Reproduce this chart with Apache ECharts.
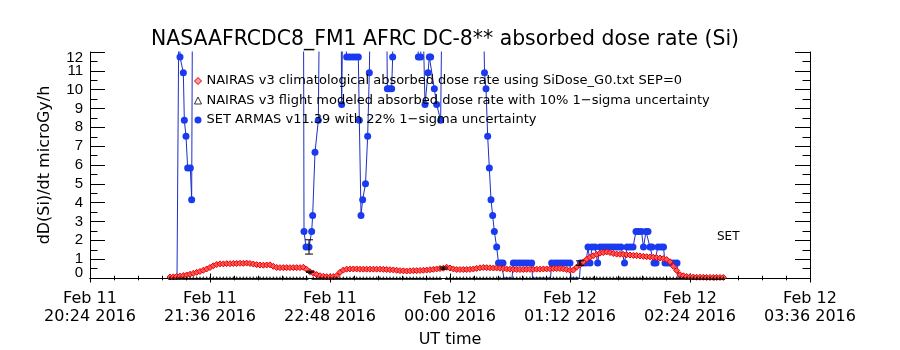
<!DOCTYPE html>
<html><head><meta charset="utf-8">
<script src="https://cdn.jsdelivr.net/npm/echarts@6/dist/echarts.min.js"></script>
<style>html,body{margin:0;padding:0;background:#fff}#c{width:900px;height:350px}</style>
</head><body><div id="c"></div>
<script>
// ---------- text ----------
const titleText = 'NASAAFRCDC8_FM1 AFRC DC-8** absorbed dose rate (Si)';
const yAxisTitle = 'dD(Si)/dt microGy/h';
const xAxisTitle = 'UT time';
const seriesNames = [
  'NAIRAS v3 climatological absorbed dose rate using SiDose_G0.txt SEP=0',
  'NAIRAS v3 flight modeled absorbed dose rate with 10% 1\u2212sigma uncertainty',
  'SET ARMAS v11.39 with 22% 1\u2212sigma uncertainty'
];
const cornerNote = 'SET';
// x axis: minutes since Feb 11 2016 00:00 UT
const xMin = 1224, xMax = 1656, xStep = 72;
const xTickLabels = ['Feb 11\n20:24 2016','Feb 11\n21:36 2016','Feb 11\n22:48 2016','Feb 12\n00:00 2016','Feb 12\n01:12 2016','Feb 12\n02:24 2016','Feb 12\n03:36 2016'];
const yMin = 0, yMax = 12, yStep = 1;

// ---------- NAIRAS climatological (red diamonds) ----------
const redT = [1272,1274,1276,1278,1280,1282,1284,1286,1288,1290,1292,1294,1296,1298,1300,1302,1304,1306,1308,1310,
1312,1314,1316,1318,1320,1322,1324,1326,1328,1330,1332,1334,1336,1338,1340,1342,1344,1346,1348,1350,
1352,1354,1356,1358,1360,1362,1364,1366,1368,1370,1372,1374,1376,1378,1380,1382,1384,1386,1388,1390,
1392,1394,1396,1398,1400,1402,1404,1406,1408,1410,1412,1414,1416,1418,1420,1422,1424,1426,1428,1430,
1432,1434,1436,1438,1440,1442,1444,1446,1448,1450,1452,1454,1456,1458,1460,1462,1464,1466,1468,1470,
1472,1474,1476,1478,1480,1482,1484,1486,1488,1490,1492,1494,1496,1498,1500,1502,1504,1506,1508,1510,
1512,1514,1516,1518,1520,1522,1524,1526,1528,1530,1532,1534,1536,1538,1540,1542,1544,1546,1548,1550,
1552,1554,1556,1558,1560,1562,1564,1566,1568,1570,1572,1574,1576,1578,1580,1582,1584,1586,1588,1590,
1592,1594,1596,1598,1600,1602,1604];
const redV = [0.05,0.06,0.08,0.10,0.13,0.16,0.20,0.25,0.30,0.35,0.41,0.48,0.56,0.65,0.72,0.75,0.75,0.76,0.76,0.77,
0.77,0.78,0.78,0.79,0.77,0.74,0.71,0.69,0.68,0.69,0.70,0.62,0.56,0.55,0.55,0.55,0.55,0.55,0.55,0.55,
0.57,0.46,0.33,0.26,0.18,0.12,0.09,0.07,0.06,0.08,0.12,0.30,0.42,0.47,0.48,0.48,0.48,0.47,0.47,0.47,
0.47,0.47,0.47,0.47,0.46,0.45,0.44,0.43,0.41,0.39,0.38,0.37,0.38,0.39,0.39,0.40,0.41,0.42,0.44,0.46,
0.48,0.50,0.52,0.57,0.53,0.48,0.45,0.45,0.45,0.45,0.46,0.48,0.51,0.54,0.56,0.55,0.54,0.53,0.53,0.52,
0.50,0.48,0.47,0.46,0.45,0.45,0.45,0.46,0.46,0.46,0.47,0.47,0.48,0.48,0.49,0.50,0.50,0.50,0.48,0.45,
0.41,0.42,0.58,0.70,0.85,1.00,1.10,1.18,1.25,1.32,1.35,1.38,1.35,1.30,1.27,1.26,1.25,1.23,1.22,1.20,
1.19,1.17,1.15,1.13,1.12,1.10,1.08,1.06,1.03,0.98,0.86,0.62,0.40,0.17,0.12,0.08,0.06,0.05,0.04,0.04,
0.04,0.03,0.03,0.03,0.03,0.03,0.03];

// ---------- NAIRAS flight modeled (black triangles), same times as redT ----------
const flightV = [0,0,0,0,0,0,0,0,0,0,0,0,0,0,0,0,0,0,0,0,
0,0,0,0,0,0,0,0,0,0,0,0,0,0,0,0,0,0,0,0,
0,0,0.33,0,0,0,0,0,0,0,0,0,0,0,0,0,0,0,0,0,
0,0,0,0,0,0,0,0,0,0,0,0,0,0,0,0,0,0,0,0,
0,0,0.53,0,0,0,0,0,0,0,0,0,0,0,0,0,0,0,0,0,
0,0,0,0,0,0,0,0,0,0,0,0,0,0,0,0,0,0,0,0,
0,0,0,0.79,0,0,0,0,0,0,0,0,0,0,0,0,0,0,0,0,
0,0,0,0,0,0,0,0,0,0,0,0,0,0,0,0,0,0,0,0,
0,0,0,0,0,0,0];

// ---------- SET ARMAS (blue dots); 15 = above plotted range ----------
const setT = [1276.2,1277.4,1278.0,1280.0,1280.6,1281.6,1282.6,1284.2,1285.0,1285.5,
1352.1,1352.4,1353.6,1355.4,1357.0,1357.6,1359.0,1361.0,1361.7,
1374.6,1375.0,1375.8,1378.0,1379.7,1381.5,1383.3,1385.0,1385.6,1386.6,1387.6,1389.3,1390.6,1391.6,1392.3,
1401.9,1402.4,1403.7,1405.0,1405.6,1406.1,
1419.9,1421.0,1422.4,1423.5,1425.0,1426.8,1427.6,1428.4,1430.6,1432.0,1434.4,1435.2,
1460.0,1460.7,1461.6,1462.6,1463.6,1464.6,1465.6,1466.6,1468.0,1469.1,1470.6,1471.8,1472.4,
1477.2,1478.0,1479.6,1481.4,1483.2,1485.0,1486.8,1489.0,1489.5,
1500.3,1501.0,1503.0,1504.8,1506.6,1508.4,1510.2,1512.0,1512.6,
1517.7,1518.3,1519.8,1521.6,1522.8,1524.0,1525.2,1527.0,1528.6,1530.0,1531.8,1533.6,1535.4,1537.2,1539.0,1540.8,1542.6,
1544.7,1546.2,1548.0,1549.8,1551.6,1553.1,1554.9,1556.1,1557.6,1558.8,1560.0,1561.2,1562.4,1563.6,1564.8,1566.6,1568.1,
1569.0,1570.8,1572.6,1574.4,1576.2,1576.8,1596.0];
const setV = [0,15,11.74,10.9,8.37,7.53,5.84,5.84,4.16,15,
15,2.47,1.64,1.64,2.47,3.32,6.68,8.37,15,
15,9.21,15,11.74,11.74,11.74,11.74,11.74,8.37,3.32,4.16,5.0,7.53,10.9,15,
15,10.05,10.05,10.05,11.74,15,
15,11.74,11.74,15,9.21,10.9,11.74,11.74,10.05,9.21,8.37,15,
15,10.9,10.05,7.53,5.84,4.16,3.32,2.47,1.64,0.8,0.8,0.8,0,
0,0.8,0.8,0.8,0.8,0.8,0.8,0.8,0,
0,0.8,0.8,0.8,0.8,0.8,0.8,0.8,0,
0,0.8,0.8,0.8,1.64,0.8,1.64,1.64,0.8,1.64,1.64,1.64,1.64,1.64,1.64,1.64,1.64,
0.8,1.64,1.64,1.64,2.47,2.47,2.47,1.64,2.47,2.47,1.64,1.64,0.8,0.8,1.64,1.64,1.64,
0.8,0.8,0.8,0.8,0.8,0,0];

// ---------- error bars (time, low, high) ----------
const errT  = [1355.4, 1356, 1436, 1518];
const errLo = [1.27, 0.30, 0.48, 0.67];
const errHi = [2.03, 0.36, 0.58, 0.91];

// ---------- chart ----------
const FONT = 'DejaVu Sans';
const chart = echarts.init(document.getElementById('c'), null, {renderer: 'canvas'});
const axisLineStyle = {color: '#000', width: 1};
const yLabelFont = {fontFamily: 'Liberation Sans', fontSize: 15, lineHeight: 11, color: '#000', margin: 7};

const redData = redT.map((t, i) => [t, redV[i]]);
const flightData = redT.map((t, i) => [t, flightV[i]]);
const setData = setT.map((t, i) => ({
  value: [t, setV[i]],
  symbol: (setV[i] > 0 && setV[i] <= yMax) ? 'circle' : 'none'
}));
const errData = errT.map((t, i) => [t, errLo[i], errHi[i]]);

chart.setOption({
  animation: false,
  backgroundColor: '#fff',
  title: {
    text: titleText, left: 146, top: 25,
    textStyle: {fontFamily: FONT, fontSize: 20.4, fontWeight: 'normal', color: '#000'}
  },
  legend: {
    orient: 'vertical', left: 189, top: 69.5,
    itemWidth: 7, itemHeight: 7, itemGap: 6.5, selectedMode: false,
    textStyle: {fontFamily: FONT, fontSize: 13, color: '#000'},
    data: [
      {name: seriesNames[0], icon: 'diamond', itemStyle: {color: '#ff9a9a', borderColor: '#e00000', borderWidth: 1}},
      {name: seriesNames[1], icon: 'triangle', itemStyle: {color: '#fff', borderColor: '#000', borderWidth: 1}},
      {name: seriesNames[2], icon: 'circle', itemStyle: {color: '#1a3af0'}}
    ]
  },
  grid: {left: 90, right: 90, top: 52, bottom: 72, containLabel: false, outerBoundsMode: 'none'},
  xAxis: [{
    type: 'value', min: xMin, max: xMax, interval: xStep, position: 'bottom',
    axisLine: {show: true, lineStyle: axisLineStyle},
    axisTick: {show: true, inside: true, length: 4.5, lineStyle: axisLineStyle},
    minorTick: {show: true, splitNumber: 5, length: 2.3, lineStyle: axisLineStyle},
    splitLine: {show: false},
    axisLabel: {
      formatter: v => xTickLabels[Math.round((v - xMin) / xStep)],
      fontFamily: FONT, fontSize: 16, lineHeight: 18, color: '#000', margin: 12,
      showMinLabel: true, showMaxLabel: true, hideOverlap: false
    },
    name: xAxisTitle, nameLocation: 'middle', nameGap: 54,
    nameTextStyle: {fontFamily: FONT, fontSize: 16, color: '#000'}
  }, {
    type: 'value', min: xMin, max: xMax, interval: xStep, position: 'top',
    axisLine: {show: true, lineStyle: axisLineStyle},
    axisTick: {show: true, inside: true, length: 4.5, lineStyle: axisLineStyle},
    minorTick: {show: true, splitNumber: 5, length: 2.3, lineStyle: axisLineStyle},
    splitLine: {show: false}, axisLabel: {show: false}
  }],
  yAxis: [{
    // main left axis: ticks and inner labels 1..11
    type: 'value', min: yMin, max: yMax, interval: yStep, position: 'left', offset: 0,
    axisLine: {show: true, lineStyle: axisLineStyle},
    axisTick: {show: true, inside: true, length: 15, lineStyle: axisLineStyle},
    minorTick: {show: true, splitNumber: 2, length: 7.5, lineStyle: axisLineStyle},
    splitLine: {show: false},
    axisLabel: Object.assign({showMinLabel: false, showMaxLabel: false, hideOverlap: false}, yLabelFont),
    name: yAxisTitle, nameLocation: 'middle', nameGap: 37, nameRotate: 90,
    nameTextStyle: {fontFamily: FONT, fontSize: 16, color: '#000'}
  }, {
    type: 'value', min: yMin, max: yMax, interval: yStep, position: 'right',
    axisLine: {show: true, lineStyle: axisLineStyle},
    axisTick: {show: true, inside: true, length: 15, lineStyle: axisLineStyle},
    minorTick: {show: true, splitNumber: 2, length: 7.5, lineStyle: axisLineStyle},
    splitLine: {show: false}, axisLabel: {show: false}
  }, {
    // end labels 0 and 12, kept inside the axis span
    type: 'value', min: yMin, max: yMax, interval: yMax - yMin, position: 'left', offset: 0,
    axisLine: {show: false}, axisTick: {show: false}, splitLine: {show: false},
    axisLabel: Object.assign({showMinLabel: true, showMaxLabel: true, hideOverlap: false,
      verticalAlignMinLabel: 'bottom', verticalAlignMaxLabel: 'top'}, yLabelFont)
  }],
  graphic: [{
    type: 'text', left: 717, top: 231,
    style: {text: cornerNote, font: '12px "DejaVu Sans"', fill: '#000'}
  }],
  series: [{
    name: seriesNames[2], type: 'line', data: setData, z: 3,
    symbol: 'circle', symbolSize: 7, showAllSymbol: true, clip: true,
    itemStyle: {color: '#1a3af0'},
    lineStyle: {color: '#1c2fc4', width: 1}
  }, {
    name: seriesNames[0], type: 'line', data: redData, z: 4,
    symbol: 'diamond', symbolSize: 6, showAllSymbol: true, clip: true,
    itemStyle: {color: '#ff5a5a', borderColor: '#e80000', borderWidth: 1},
    lineStyle: {color: '#e00000', width: 1}
  }, {
    name: seriesNames[1], type: 'scatter', data: flightData, z: 5,
    symbol: 'triangle', symbolSize: 4, clip: true,
    itemStyle: {color: '#000'}
  }, {
    name: 'err', type: 'custom', data: errData, z: 6, clip: true,
    renderItem: (params, api) => {
      const lo = api.coord([api.value(0), api.value(1)]);
      const hi = api.coord([api.value(0), api.value(2)]);
      const w = 4;
      const st = {stroke: '#000', lineWidth: 1};
      return {type: 'group', children: [
        {type: 'line', shape: {x1: lo[0], y1: lo[1], x2: hi[0], y2: hi[1]}, style: st},
        {type: 'line', shape: {x1: lo[0] - w, y1: lo[1], x2: lo[0] + w, y2: lo[1]}, style: st},
        {type: 'line', shape: {x1: hi[0] - w, y1: hi[1], x2: hi[0] + w, y2: hi[1]}, style: st}
      ]};
    }
  }]
});
</script>
</body></html>
